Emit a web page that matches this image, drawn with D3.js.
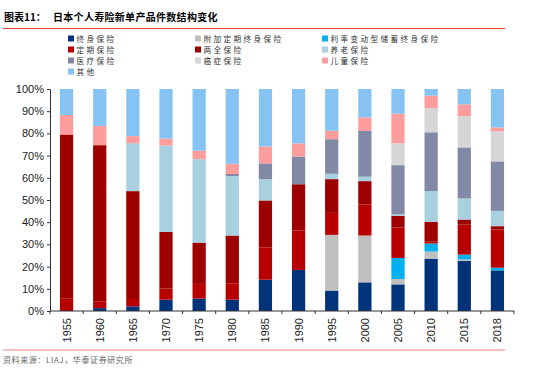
<!DOCTYPE html>
<html>
<head>
<meta charset="utf-8">
<script src="https://cdn.jsdelivr.net/npm/d3@7"></script>
<style>
  body { margin: 0; background: #fff; }
  svg { display: block; font-family: "Liberation Sans", Arial, sans-serif; }
  .cn { font-family: "Noto Sans CJK SC", sans-serif; }
</style>
</head>
<body>
<div id="chart"></div>
<script>
// categories (years)
const years = ['1955', '1960', '1965', '1970', '1975', '1980', '1985', '1990', '1995', '2000', '2005', '2010', '2015', '2018'];

// series names, in stacking order (bottom to top)
const seriesNames = ['终身保险', '附加定期终身保险', '利率变动型储蓄终身保险', '定期保险', '两全保险',
    '养老保险', '医疗保险', '癌症保险', '儿童保险', '其他'];

// share of new policies, %
const wholeLife    = [0,   1.3, 2.1, 5.1, 5.6, 5.1, 14.1, 18.5, 9.2,  12.9, 12.0, 23.6, 22.6, 18.3];
const termRider    = [0,   0,   0,   0,   0,   0,   0,    0,    25.1, 21.1, 2.4,  3.2,  0.6,  0];
const variableRate = [0,   0,   0,   0,   0,   0,   0,    0,    0,    0,    9.5,  3.6,  2.2,  1.2];
const term         = [5.5, 3.1, 3.3, 5.0, 6.6, 7.4, 14.6, 17.7, 9.9,  14.0, 13.7, 0.8,  13.5, 17.2];
const endowment    = [74.0, 70.3, 48.6, 25.5, 18.6, 21.5, 21.1, 20.9, 15.2, 10.5, 5.3, 9.0, 2.3, 1.5];
const pension      = [0,   0,   21.6, 39.0, 37.6, 26.8, 9.6,  0,    2.4,  2.0,  0.6,  13.8, 9.5,  6.9];
const medical      = [0,   0,   0,   0,   0,   0.9, 7.1,  12.5, 15.6, 20.6, 22.2, 26.5, 23.0, 22.3];
const cancer       = [0,   0,   0,   0,   0,   0,   0,    0,    0,    0,    9.8,  10.9, 14.1, 13.6];
const child        = [8.8, 8.6, 3.2, 3.1, 3.8, 4.6, 7.6,  5.9,  3.8,  6.1,  13.4, 5.6,  5.3,  1.7];
const other        = [11.7, 16.7, 21.2, 22.3, 27.8, 33.7, 25.9, 24.5, 18.8, 12.8, 11.1, 3.0, 6.9, 17.3];

const yTicks = [0, 10, 20, 30, 40, 50, 60, 70, 80, 90, 100];

const colors = ['#00337A', '#BFBFBF', '#00B0F0', '#B80000', '#9E0000',
    '#A8D0DF', '#8289A6', '#D6D6D6', '#FF9C9C', '#86C3F2'];

const seriesData = [wholeLife, termRider, variableRate, term, endowment, pension, medical, cancer, child, other];

// build rows for d3.stack
const rows = years.map((y, i) => {
    const row = { year: y };
    seriesNames.forEach((s, k) => { row[s] = seriesData[k][i]; });
    return row;
});

const width = 554, height = 369;
const margin = { left: 50, right: 40, top: 89, bottom: 58 };

const svg = d3.select('#chart').append('svg')
    .attr('width', width)
    .attr('height', height);

// title
const title = svg.append('text')
    .attr('class', 'cn')
    .attr('x', 4)
    .attr('y', 21)
    .attr('font-size', 10)
    .attr('font-weight', 'bold')
    .attr('fill', '#000');
title.append('tspan').text('图表11：');
title.append('tspan').attr('x', 53).attr('letter-spacing', 0.3).text('日本个人寿险新单产品件数结构变化');

svg.append('line')
    .attr('x1', 3).attr('x2', 505)
    .attr('y1', 28.5).attr('y2', 28.5)
    .attr('stroke', '#E8402C').attr('stroke-width', 1);

// legend
const legendCols = [68, 195, 322];
const legendRows = [39, 50, 61, 72];
const legend = svg.append('g');
seriesNames.forEach((name, k) => {
    const cx = legendCols[k % 3];
    const cy = legendRows[Math.floor(k / 3)];
    legend.append('rect')
        .attr('x', cx).attr('y', cy - 3.5)
        .attr('width', 6).attr('height', 6)
        .attr('fill', colors[k]);
    legend.append('text')
        .attr('class', 'cn')
        .attr('x', cx + 8.5).attr('y', cy + 3)
        .attr('font-size', 7.6)
        .attr('letter-spacing', 2.4)
        .attr('fill', '#333')
        .text(name);
});

// scales
const x = d3.scaleBand()
    .domain(years)
    .range([margin.left, 514])
    .paddingInner(0.6)
    .paddingOuter(0.3);

const y = d3.scaleLinear()
    .domain([0, 100])
    .range([311, margin.top]);

const stack = d3.stack().keys(seriesNames);
const layers = stack(rows);

svg.append('g')
    .selectAll('g')
    .data(layers)
    .join('g')
    .attr('fill', (d, k) => colors[k])
    .selectAll('rect')
    .data(d => d)
    .join('rect')
    .attr('x', d => x(d.data.year))
    .attr('y', d => y(d[1]))
    .attr('width', x.bandwidth())
    .attr('height', d => Math.max(0, y(d[0]) - y(d[1])));

// y axis
const yAxis = svg.append('g')
    .attr('transform', `translate(${margin.left},0)`)
    .call(d3.axisLeft(y).tickValues(yTicks).tickFormat(d => d + '%').tickSize(3).tickPadding(3));
yAxis.select('.domain').attr('stroke', '#333');
yAxis.selectAll('.tick line').attr('stroke', '#333');
yAxis.selectAll('text').attr('font-size', 11).attr('fill', '#222')
    .attr('font-family', '"Liberation Sans", Arial, sans-serif');

// x axis: ticks at band boundaries
const xg = svg.append('g').attr('transform', 'translate(0,311)');
const x0 = margin.left;
xg.append('line')
    .attr('x1', x0).attr('x2', 514)
    .attr('y1', 0).attr('y2', 0)
    .attr('stroke', '#333');
xg.selectAll('line.tk')
    .data(d3.range(years.length + 1))
    .join('line')
    .attr('class', 'tk')
    .attr('x1', i => x0 + i * x.step())
    .attr('x2', i => x0 + i * x.step())
    .attr('y1', 0).attr('y2', 3)
    .attr('stroke', '#333');
xg.selectAll('text')
    .data(years)
    .join('text')
    .attr('transform', d => `translate(${x(d) + x.bandwidth() / 2 + 4},${7}) rotate(-90)`)
    .attr('text-anchor', 'end')
    .attr('font-size', 11)
    .attr('fill', '#222')
    .text(d => d);

// bottom rule and source
svg.append('line')
    .attr('x1', 3).attr('x2', 505)
    .attr('y1', 350).attr('y2', 350)
    .attr('stroke', '#F08080').attr('stroke-width', 1);

svg.append('text')
    .attr('class', 'cn')
    .attr('x', 3).attr('y', 363)
    .attr('font-size', 8)
    .attr('letter-spacing', 0.6)
    .attr('fill', '#666')
    .text('资料来源：LIAJ，华泰证券研究所');
</script>
</body>
</html>
